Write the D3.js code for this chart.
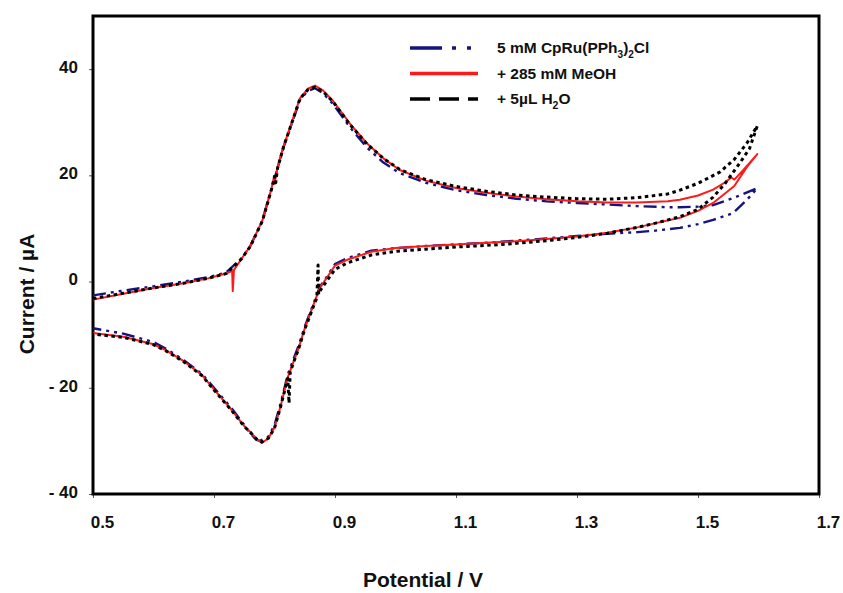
<!DOCTYPE html>
<html>
<head>
<meta charset="utf-8">
<script src="https://cdn.jsdelivr.net/npm/d3@7"></script>
<style>
  body { margin: 0; background: #fff; }
  text { font-family: "Liberation Sans", Arial, sans-serif; font-weight: bold; }
</style>
</head>
<body>
<div id="chart"></div>
<script>
// x ticks / y ticks
const xTicks = [0.5, 0.7, 0.9, 1.1, 1.3, 1.5, 1.7];
const yTicks = [-40, -20, 0, 20, 40];

// [potential V, current uA]; one continuous scan
const cvBase = [
  [0.50, -2.6], [0.55, -1.7], [0.60, -0.9], [0.65, 0.0], [0.69, 0.8], [0.72, 1.7],
  [0.745, 4.3], [0.76, 6.7], [0.78, 11.5], [0.795, 17.5], [0.805, 21.3], [0.815, 25.3],
  [0.826, 28.9], [0.842, 34.2], [0.855, 35.9], [0.867, 36.4], [0.880, 35.5], [0.897, 33.4],
  [0.925, 29.0], [0.953, 25.2], [0.98, 22.4], [1.007, 20.4], [1.05, 18.6], [1.10, 17.2],
  [1.15, 16.3], [1.20, 15.6], [1.25, 15.1], [1.30, 14.8], [1.35, 14.5], [1.40, 14.2],
  [1.45, 14.0], [1.47, 14.0], [1.50, 14.1], [1.525, 14.4], [1.558, 15.7], [1.598, 17.6],
  [1.581, 15.4], [1.558, 12.9], [1.525, 11.6], [1.50, 10.8], [1.47, 10.1], [1.43, 9.6],
  [1.40, 9.3], [1.35, 9.0], [1.30, 8.6], [1.25, 8.1], [1.20, 7.7], [1.15, 7.3],
  [1.10, 7.0], [1.05, 6.7], [1.00, 6.3], [0.96, 5.8], [0.92, 4.4], [0.90, 3.3],
  [0.887, 1.0], [0.875, -1.0], [0.864, -4.3], [0.85, -8.5], [0.84, -12.0], [0.822, -17.5],
  [0.81, -23.0], [0.80, -27.0], [0.79, -29.2], [0.776, -30.0], [0.77, -29.8], [0.76, -28.6],
  [0.75, -27.0], [0.73, -24.0], [0.70, -20.0], [0.68, -17.4], [0.65, -14.8], [0.62, -12.6],
  [0.60, -11.4], [0.55, -9.8], [0.50, -8.8]
];

const cvMeOH = [
  [0.50, -3.4], [0.55, -2.3], [0.60, -1.2], [0.65, -0.3], [0.69, 0.6], [0.72, 1.5],
  [0.730, 2.0], [0.731, -1.8], [0.733, 2.2], [0.745, 4.2], [0.76, 6.7], [0.78, 11.5],
  [0.795, 17.5], [0.799, 19.6], [0.800, 18.4], [0.805, 21.5], [0.815, 25.5], [0.826, 29.1],
  [0.842, 34.5], [0.855, 36.3], [0.867, 36.9], [0.880, 36.0], [0.897, 34.0], [0.925, 29.7],
  [0.953, 26.0], [0.98, 23.2], [1.007, 21.0], [1.05, 19.0], [1.10, 17.6], [1.15, 16.7],
  [1.20, 16.0], [1.25, 15.5], [1.30, 15.1], [1.35, 14.9], [1.40, 14.9], [1.45, 15.1],
  [1.47, 15.4], [1.50, 16.2], [1.525, 17.3], [1.545, 18.7], [1.555, 19.6], [1.560, 19.2],
  [1.575, 21.0], [1.598, 24.0],
  [1.581, 21.6], [1.56, 18.0], [1.525, 14.8], [1.50, 13.3], [1.47, 12.0], [1.43, 11.0],
  [1.40, 10.2], [1.35, 9.2], [1.30, 8.5], [1.25, 8.0], [1.20, 7.6], [1.15, 7.3],
  [1.10, 7.0], [1.05, 6.7], [1.00, 6.3], [0.96, 5.6], [0.92, 4.1], [0.90, 3.0],
  [0.887, 0.8], [0.875, -1.2], [0.864, -4.5], [0.85, -8.8], [0.84, -12.5], [0.822, -18.0],
  [0.81, -23.5], [0.80, -27.5], [0.79, -29.5], [0.779, -30.4], [0.77, -29.6], [0.76, -28.3],
  [0.75, -27.2], [0.73, -24.3], [0.70, -20.3], [0.68, -17.6], [0.65, -15.0], [0.62, -12.9],
  [0.60, -11.8], [0.55, -10.4], [0.50, -9.7]
];

const cvWater = [
  [0.50, -3.2], [0.55, -2.2], [0.60, -1.2], [0.65, -0.3], [0.69, 0.6], [0.72, 1.5],
  [0.745, 4.2], [0.76, 6.6], [0.78, 11.4], [0.795, 17.3], [0.800, 19.8], [0.802, 18.6],
  [0.805, 21.3], [0.815, 25.4], [0.826, 29.0], [0.842, 34.4], [0.855, 36.1], [0.867, 36.6],
  [0.880, 35.8], [0.897, 33.8], [0.925, 29.5], [0.953, 25.9], [0.98, 23.2], [1.007, 21.1],
  [1.05, 19.2], [1.10, 17.9], [1.15, 17.0], [1.20, 16.3], [1.25, 15.9], [1.30, 15.6],
  [1.35, 15.5], [1.40, 15.8], [1.45, 16.5], [1.47, 17.2], [1.50, 18.5], [1.536, 20.6],
  [1.56, 23.0], [1.581, 26.1], [1.598, 29.3],
  [1.585, 25.0], [1.569, 22.3], [1.545, 18.5], [1.525, 15.9], [1.50, 13.6], [1.47, 12.2],
  [1.43, 11.0], [1.40, 10.2], [1.35, 9.1], [1.30, 8.3], [1.25, 7.7], [1.20, 7.2],
  [1.15, 6.8], [1.10, 6.5], [1.05, 6.1], [1.00, 5.7], [0.96, 5.0], [0.92, 3.5],
  [0.90, 2.3], [0.887, 0.2], [0.876, -1.6], [0.873, -2.4], [0.872, 3.1], [0.870, -3.1],
  [0.864, -4.8], [0.85, -9.0], [0.84, -12.6], [0.826, -17.0], [0.824, -22.9], [0.822, -18.2],
  [0.81, -23.6], [0.80, -27.6], [0.79, -29.5], [0.779, -30.2], [0.77, -29.6], [0.76, -28.4],
  [0.75, -27.3], [0.73, -24.4], [0.70, -20.4], [0.68, -17.7], [0.65, -15.1], [0.62, -13.0],
  [0.60, -11.9], [0.55, -10.5], [0.50, -9.9]
];

const seriesNames = ["5 mM CpRu(PPh3)2Cl", "+ 285 mM MeOH", "+ 5µL H2O"];

const width = 843, height = 593;
const margin = { top: 16, right: 24, bottom: 99, left: 93 };

const svg = d3.select("#chart").append("svg")
  .attr("width", width)
  .attr("height", height);

const x = d3.scaleLinear().domain([0.5, 1.7]).range([margin.left, width - margin.right]);
const y = d3.scaleLinear().domain([-40, 50]).range([height - margin.bottom, margin.top]);

// axes
const xAxis = svg.append("g")
  .attr("transform", `translate(0,${height - margin.bottom})`)
  .call(d3.axisBottom(x).tickValues(xTicks).tickFormat(d3.format(".1f")).tickSize(4).tickPadding(18));
xAxis.select(".domain").remove();
xAxis.selectAll("text").attr("dx", 9).style("font-size", "17px").attr("fill", "#111");
xAxis.selectAll("line").attr("stroke", "#555");

const yAxis = svg.append("g")
  .attr("transform", `translate(${margin.left},0)`)
  .call(d3.axisLeft(y).tickValues(yTicks)
    .tickFormat(d => d < 0 ? "- " + Math.abs(d) : d).tickSize(4).tickPadding(11));
yAxis.select(".domain").remove();
yAxis.selectAll("text").attr("dy", "0.2em").style("font-size", "17px").attr("fill", "#111");
yAxis.selectAll("line").attr("stroke", "#555");

// plot frame
svg.append("rect")
  .attr("x", x(0.5))
  .attr("y", y(50))
  .attr("width", x(1.7) - x(0.5))
  .attr("height", y(-40) - y(50))
  .attr("fill", "none")
  .attr("stroke", "#000")
  .attr("stroke-width", 3);

// curves
const line = d3.line().x(d => x(d[0])).y(d => y(d[1]));

const styles = [
  { data: cvBase, color: "#14147e", width: 2.4, dash: "13,5,3,5,3,5", legendDash: "32,10,4,11,4,11" },
  { data: cvMeOH, color: "#ff1a1a", width: 2, dash: null, legendDash: null },
  { data: cvWater, color: "#000", width: 3, dash: "3.5,3.5", legendDash: "20,9" }
];

const plot = svg.append("g");
plot.selectAll("path")
  .data(styles)
  .join("path")
  .attr("d", d => line(d.data))
  .attr("fill", "none")
  .attr("stroke", d => d.color)
  .attr("stroke-width", d => d.width)
  .attr("stroke-dasharray", d => d.dash)
  .attr("stroke-linejoin", "round");

// legend
const legend = svg.append("g").attr("transform", "translate(410,48)");
const rowH = 25.5;
styles.forEach((s, i) => {
  legend.append("line")
    .attr("x1", 0).attr("x2", 68)
    .attr("y1", i * rowH).attr("y2", i * rowH)
    .attr("stroke", s.color)
    .attr("stroke-width", 3.5)
    .attr("stroke-dasharray", s.legendDash);
});

const legendText = legend.append("g").attr("transform", "translate(87,0)").style("font-size", "15.5px").attr("fill", "#111");

const t1 = legendText.append("text").attr("y", 0).attr("dy", "0.35em");
t1.append("tspan").text("5 mM CpRu(PPh");
t1.append("tspan").attr("dy", 5).style("font-size", "10px").text("3");
t1.append("tspan").attr("dy", -5).text(")");
t1.append("tspan").attr("dy", 5).style("font-size", "10px").text("2");
t1.append("tspan").attr("dy", -5).text("Cl");

legendText.append("text").attr("y", rowH).attr("dy", "0.35em").text("+ 285 mM MeOH");

const t3 = legendText.append("text").attr("y", 2 * rowH).attr("dy", "0.35em");
t3.append("tspan").text("+ 5µL H");
t3.append("tspan").attr("dy", 5).style("font-size", "10.5px").text("2");
t3.append("tspan").attr("dy", -5).text("O");

// axis titles
svg.append("text")
  .attr("x", 423)
  .attr("y", 587)
  .attr("text-anchor", "middle")
  .style("font-size", "21px")
  .attr("fill", "#111")
  .text("Potential / V");

svg.append("text")
  .attr("transform", "translate(34,294) rotate(-90)")
  .attr("text-anchor", "middle")
  .style("font-size", "21px")
  .attr("fill", "#111")
  .text("Current / µA");
</script>
</body>
</html>
